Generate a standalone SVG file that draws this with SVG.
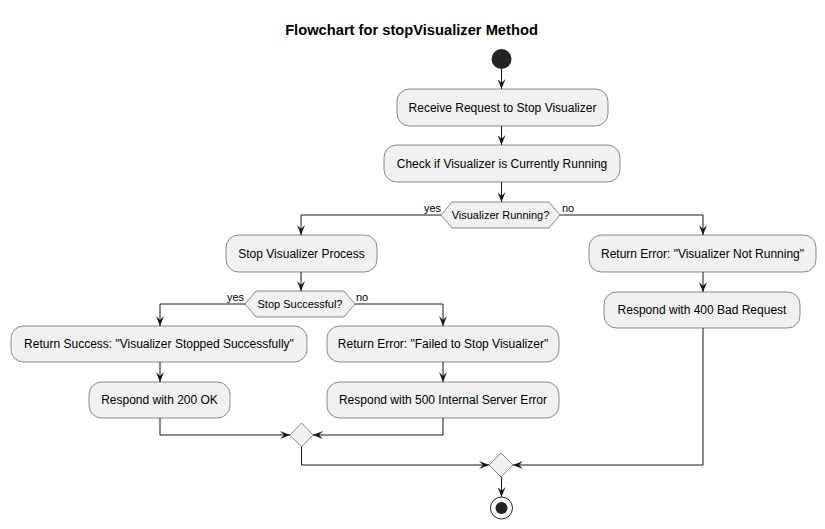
<svg xmlns="http://www.w3.org/2000/svg" width="825" height="529" viewBox="0 0 825 529">
<defs>
<style>
.box{fill:#F1F1F1;stroke:#181818;stroke-width:0.5}
.t{font-family:"Liberation Sans",Arial,sans-serif;font-size:12px;fill:#000;text-anchor:middle}
.d{font-family:"Liberation Sans",Arial,sans-serif;font-size:11px;fill:#000;text-anchor:middle}
.l{font-family:"Liberation Sans",Arial,sans-serif;font-size:11px;fill:#000}
.ln{fill:none;stroke:#181818;stroke-width:1}
</style>
<marker id="ah" viewBox="0 0 10 8" refX="10" refY="4" markerWidth="10" markerHeight="8" markerUnits="userSpaceOnUse" orient="auto">
<path d="M0,0 L10,4 L0,8 L4,4 Z" fill="#181818"/>
</marker>
</defs>
<rect width="825" height="529" fill="#FFFFFF"/>
<text x="411.5" y="35" font-family="'Liberation Sans',Arial,sans-serif" font-size="14.7" font-weight="bold" text-anchor="middle">Flowchart for stopVisualizer Method</text>

<g id="connectors">
<path class="ln" d="M501.5,69 L501.5,89" marker-end="url(#ah)"/>
<path class="ln" d="M501.5,126 L501.5,145" marker-end="url(#ah)"/>
<path class="ln" d="M501.5,182 L501.5,202" marker-end="url(#ah)"/>
<path class="ln" d="M441,215 L301,215 L301,235" marker-end="url(#ah)"/>
<path class="ln" d="M560,215 L703,215 L703,235" marker-end="url(#ah)"/>
<path class="ln" d="M301,272 L301,291" marker-end="url(#ah)"/>
<path class="ln" d="M245,304 L160,304 L160,326" marker-end="url(#ah)"/>
<path class="ln" d="M355,304 L443,304 L443,326" marker-end="url(#ah)"/>
<path class="ln" d="M160,362 L160,382" marker-end="url(#ah)"/>
<path class="ln" d="M443,362 L443,382" marker-end="url(#ah)"/>
<path class="ln" d="M160,418 L160,435 L290,435" marker-end="url(#ah)"/>
<path class="ln" d="M443,418 L443,435 L313,435" marker-end="url(#ah)"/>
<path class="ln" d="M301.5,447 L301.5,465 L489,465" marker-end="url(#ah)"/>
<path class="ln" d="M703,272 L703,292" marker-end="url(#ah)"/>
<path class="ln" d="M703,328 L703,465 L513,465" marker-end="url(#ah)"/>
<path class="ln" d="M501.5,477 L501.5,497" marker-end="url(#ah)"/>
<text class="l" x="424" y="212">yes</text>
<text class="l" x="562" y="212">no</text>
<text class="l" x="227" y="301">yes</text>
<text class="l" x="356" y="301">no</text>
</g>

<g id="start"><circle cx="501.5" cy="59" r="10" fill="#222222"/></g>

<g id="receive"><rect class="box" x="397" y="89" width="211" height="37" rx="12.5"/><text class="t" x="502.5" y="111.5">Receive Request to Stop Visualizer</text></g>
<g id="check"><rect class="box" x="384" y="145" width="236" height="37" rx="12.5"/><text class="t" x="502" y="167.5">Check if Visualizer is Currently Running</text></g>
<g id="running"><polygon class="box" points="441,215 452,202 549,202 560,215 549,228 452,228"/><text class="d" x="500.5" y="219">Visualizer Running?</text></g>

<g id="stopproc"><rect class="box" x="226" y="235" width="151" height="37" rx="12.5"/><text class="t" x="301.5" y="257.5">Stop Visualizer Process</text></g>
<g id="success"><polygon class="box" points="245,304 256,291 344,291 355,304 344,317 256,317"/><text class="d" x="300" y="308">Stop Successful?</text></g>

<g id="retsuccess"><rect class="box" x="11" y="326" width="296" height="36" rx="12.5"/><text class="t" x="159" y="348">Return Success: "Visualizer Stopped Successfully"</text></g>
<g id="r200"><rect class="box" x="89" y="382" width="141" height="36" rx="12.5"/><text class="t" x="159.5" y="404">Respond with 200 OK</text></g>

<g id="retfail"><rect class="box" x="327" y="326" width="232" height="36" rx="12.5"/><text class="t" x="443" y="348">Return Error: "Failed to Stop Visualizer"</text></g>
<g id="r500"><rect class="box" x="327" y="382" width="232" height="36" rx="12.5"/><text class="t" x="443" y="404">Respond with 500 Internal Server Error</text></g>

<g id="retnotrun"><rect class="box" x="589" y="235" width="227" height="37" rx="12.5"/><text class="t" x="702.5" y="257.5">Return Error: "Visualizer Not Running"</text></g>
<g id="r400"><rect class="box" x="604" y="292" width="196" height="36" rx="12.5"/><text class="t" x="702" y="314">Respond with 400 Bad Request</text></g>

<g id="merge1"><polygon class="box" points="290,435 301.5,423 313,435 301.5,447"/></g>
<g id="merge2"><polygon class="box" points="489,465 501,453 513,465 501,477"/></g>

<g id="end"><circle cx="501.5" cy="508" r="11" fill="none" stroke="#222222" stroke-width="1"/><circle cx="501.5" cy="508" r="6" fill="#222222"/></g>
</svg>
